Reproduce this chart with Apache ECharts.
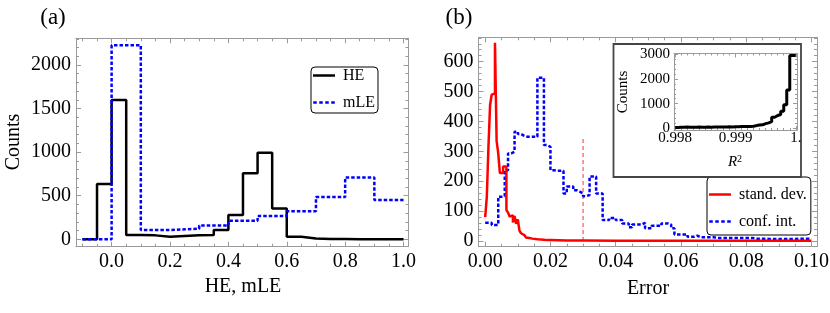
<!DOCTYPE html>
<html>
<head>
<meta charset="utf-8">
<script src="https://cdn.jsdelivr.net/npm/echarts@6/dist/echarts.min.js"></script>
<style>html,body{margin:0;padding:0;background:#fff}#c{width:830px;height:313px}</style>
</head>
<body>
<div id="c"></div>
<script>
// ---------- DATA ----------
// Panel (a): HE histogram (bin edges + counts)
const heEdges = [-0.1,-0.05,0,0.05,0.1,0.15,0.2,0.25,0.3,0.35,0.4,0.45,0.5,0.55,0.6,0.65,0.7,0.75,0.8,0.85,0.9,0.95,1.0];
const heCounts = [0,634,1597,49,45,28,38,45,50,107,279,757,993,353,30,9,2,2,1,1,1,1];
// Panel (a): mLE histogram
const mleEdges = [-0.1,0,0.1,0.2,0.3,0.4,0.5,0.6,0.7,0.8,0.9,1.0];
const mleCounts = [0,2225,107,122,158,213,267,323,485,709,451];

// Panel (b): standard deviation histogram
const sdEdges = [0,0.0005,0.001,0.0015,0.002,0.0025,0.003,0.0035,0.004,0.0045,
  0.005,0.0055,0.006,0.0065,0.007,0.0075,0.008,0.0085,0.009,0.0095,
  0.010,0.0105,0.011,0.0115,0.012,0.0125,0.013,0.0135,0.014,0.0145,
  0.015,0.016,0.017,0.018,0.019,0.020,0.025,0.030,0.040,0.060,0.100];
const sdCounts = [80,148,315,455,490,494,663,335,293,228,
  228,249,249,104,95,82,86,62,84,58,
  72,35,26,20,15,12,10,9,8,7,
  6,5,4,3,3,2,2,1,1,1];
// Panel (b): confidence interval histogram (0.001 bins from 0 to 0.1)
const ciEdges = [0,0.001,0.002,0.003,0.004,0.005,0.006,0.007,0.008,0.009,
  0.010,0.011,0.012,0.013,0.014,0.015,0.016,0.017,0.018,0.019,
  0.020,0.021,0.022,0.023,0.024,0.025,0.026,0.027,0.028,0.029,
  0.030,0.031,0.032,0.033,0.034,0.035,0.036,0.037,0.038,0.039,
  0.040,0.041,0.042,0.043,0.044,0.045,0.046,0.047,0.048,0.049,
  0.050,0.051,0.052,0.053,0.054,0.055,0.056,0.057,0.058,0.059,
  0.060,0.061,0.062,0.063,0.064,0.065,0.066,0.067,0.068,0.069,
  0.070,0.071,0.072,0.073,0.074,0.075,0.076,0.077,0.078,0.079,
  0.080,0.081,0.082,0.083,0.084,0.085,0.086,0.087,0.088,0.089,
  0.090,0.091,0.092,0.093,0.094,0.095,0.096,0.097,0.098,0.099,0.100];
const ciCounts = [61,61,54,54,148,150,237,293,299,366,
  358,352,349,349,349,349,546,546,321,315,
  237,235,235,235,159,182,182,170,165,159,
  150,154,216,216,159,159,70,70,77,77,
  70,70,59,59,46,55,55,55,61,43,
  43,51,51,51,59,59,55,43,22,22,
  22,22,14,14,18,13,13,13,13,13,
  10,10,10,10,10,10,10,10,10,10,
  10,10,8,8,8,8,7,7,7,7,
  7,7,7,7,7,8,8,8,8,8];
// Threshold marker in panel (b)
const cutX = 0.03;
const cutTop = 350;

// Inset: R^2 histogram
const r2Edges = [0.998,0.99805,0.9981,0.99815,0.9982,0.99825,0.9983,0.99835,0.9984,0.99845,
  0.9985,0.99855,0.9986,0.99865,0.9987,0.99875,0.9988,0.99885,0.9989,0.99895,
  0.999,0.99905,0.9991,0.99915,0.9992,0.99925,0.9993,0.99935,0.9994,0.99945,
  0.9995,0.99955,0.9996,0.99965,0.9997,0.99975,0.9998,0.99985,0.9999,0.99995,1.0];
const r2Counts = [30,45,40,50,45,40,45,50,45,45,
  50,45,50,50,55,50,55,60,55,60,
  65,70,70,75,75,80,110,130,140,190,
  220,270,450,520,560,690,950,1550,2950,2950];

// Tick values and labels
const aXTicks = [0,0.2,0.4,0.6,0.8,1.0];
const aXLabels = ['0.0','0.2','0.4','0.6','0.8','1.0'];
const aYTicks = [0,500,1000,1500,2000];
const aYLabels = ['0','500','1000','1500','2000'];
const bXTicks = [0,0.02,0.04,0.06,0.08,0.10];
const bXLabels = ['0.00','0.02','0.04','0.06','0.08','0.10'];
const bYTicks = [0,100,200,300,400,500,600];
const bYLabels = ['0','100','200','300','400','500','600'];
const iXTicks = [0.998,0.999,1.0];
const iXLabels = ['0.998','0.999','1.'];
const iYTicks = [0,1000,2000,3000];
const iYLabels = ['0','1000','2000','3000'];

// ---------- HELPERS ----------
const FONT = "'Liberation Serif','Times New Roman','DejaVu Serif',serif";
const FRAME = '#9a9a9a';
function range(a,b,s){const out=[];const n=Math.round((b-a)/s);for(let i=0;i<=n;i++)out.push(+(a+i*s).toFixed(10));return out;}
function stepPoints(edges,counts){const p=[];for(let i=0;i<counts.length;i++){p.push([edges[i],counts[i]]);p.push([edges[i+1],counts[i]]);}return p;}
function frame(dim,gi,min,max,majors,minors,labels,o){
  const pos = dim==='x'?['bottom','top']:['left','right'];
  const base = {type:'value',gridIndex:gi,min:min,max:max,splitLine:{show:false},z:o.z||0,axisPointer:{show:false}};
  const fmt = v=>{let bi=0,bd=Infinity;majors.forEach((m,i)=>{const d=Math.abs(m-v);if(d<bd){bd=d;bi=i;}});return labels[bi];};
  const line = {show:true,onZero:false,lineStyle:{color:FRAME,width:1}};
  const noLine = {show:false,onZero:false};
  const tMaj = {show:true,inside:true,length:o.maj,customValues:majors,lineStyle:{color:FRAME,width:1}};
  const tMin = {show:true,inside:true,length:o.mn,customValues:minors,lineStyle:{color:FRAME,width:1}};
  return [
    Object.assign({},base,{position:pos[0],axisLine:line,axisTick:tMaj,axisLabel:{show:true,customValues:majors,formatter:fmt,fontFamily:FONT,fontSize:o.fs,color:'#000',margin:o.margin}}),
    Object.assign({},base,{position:pos[0],axisLine:noLine,axisTick:tMin,axisLabel:{show:false}}),
    Object.assign({},base,{position:pos[1],axisLine:line,axisTick:tMaj,axisLabel:{show:false}}),
    Object.assign({},base,{position:pos[1],axisLine:noLine,axisTick:tMin,axisLabel:{show:false}})
  ];
}

const xAxes = [].concat(
  frame('x',0,-0.122,1.017,aXTicks,range(-0.1,1.0,0.05),aXLabels,{maj:5,mn:3,fs:20,margin:5}),
  frame('x',1,-0.00205,0.1017,bXTicks,range(0,0.1,0.005),bXLabels,{maj:5,mn:3,fs:20,margin:5}),
  frame('x',2,0.99798,1.00002,iXTicks,range(0.998,1.0,0.0001),iXLabels,{maj:4,mn:2,fs:15,margin:1,z:6})
);
const yAxes = [].concat(
  frame('y',0,-85,2306,aYTicks,range(0,2300,100),aYLabels,{maj:5,mn:3,fs:20,margin:5}),
  frame('y',1,-19,681.6,bYTicks,range(0,680,20),bYLabels,{maj:5,mn:3,fs:20,margin:5}),
  frame('y',2,-69,3032,iYTicks,range(0,3000,200),iYLabels,{maj:4,mn:2,fs:15,margin:4,z:6})
);

function txt(t,x,y,size,rot,extra){
  return Object.assign({type:'text',x:x,y:y,rotation:rot||0,z:20,
    style:{text:t,fontFamily:FONT,fontSize:size,fill:'#000',align:'center',verticalAlign:'middle'}},extra||{});
}

const SOLID_ICON = 'rect';
const DOTTED_ICON = 'path://M0,0h3.5v2.5h-3.5z M6,0h3.5v2.5h-3.5z M12,0h3.5v2.5h-3.5z M18,0h3.5v2.5h-3.5z';
const legendBase = {orient:'vertical',itemGap:10,itemWidth:22,itemHeight:2.5,
  borderColor:'#000',borderWidth:1,borderRadius:4,backgroundColor:'#fff',selectedMode:false,
  textStyle:{fontFamily:FONT,fontSize:16,color:'#000',lineHeight:17,padding:[0,0,0,3]}};

const chart = echarts.init(document.getElementById('c'),null,{renderer:'canvas'});
chart.setOption({
  animation:false,
  backgroundColor:'#fff',
  grid:[
    {left:76,top:38.3,width:332.5,height:208.4,outerBoundsMode:'none'},
    {left:478.5,top:37.3,width:338.5,height:209.4,outerBoundsMode:'none'},
    {left:674,top:53.5,width:123,height:76.5,outerBoundsMode:'none'}
  ],
  xAxis:xAxes,
  yAxis:yAxes,
  legend:[
    Object.assign({},legendBase,{data:[{name:'HE',icon:SOLID_ICON},{name:'mLE',icon:DOTTED_ICON}],left:311,top:67,padding:[0,3,2,2]}),
    Object.assign({},legendBase,{data:[{name:'stand. dev.',icon:SOLID_ICON},{name:'conf. int.',icon:DOTTED_ICON}],left:707,top:177,padding:[9,4,5,2]})
  ],
  graphic:[
    {type:'rect',z:5,shape:{x:613.5,y:44,width:187.5,height:133},style:{fill:'#fff',stroke:'#444',lineWidth:1.8}},
    txt('(a)',53,18,23),
    txt('(b)',459,18,23),
    txt('Counts',13.5,142,20,Math.PI/2),
    txt('HE, mLE',243,287,20),
    txt('Error',648,289,20),
    txt('Counts',623,92,15,Math.PI/2),
    {type:'text',x:735,y:162,z:20,style:{text:'{i|R}{s|2}',fontFamily:FONT,fontSize:15,fill:'#000',align:'center',verticalAlign:'middle',
      rich:{i:{fontFamily:FONT,fontSize:15,fontStyle:'italic',lineHeight:16,verticalAlign:'bottom'},
            s:{fontFamily:FONT,fontSize:10,lineHeight:16,verticalAlign:'top'}}}}
  ],
  series:[
    {name:'HE',type:'line',xAxisIndex:0,yAxisIndex:0,data:stepPoints(heEdges,heCounts),symbol:'none',showSymbol:false,
     lineStyle:{color:'#000',width:2.5},itemStyle:{color:'#000'},z:3},
    {name:'mLE',type:'line',xAxisIndex:0,yAxisIndex:0,data:stepPoints(mleEdges,mleCounts),symbol:'none',showSymbol:false,
     lineStyle:{color:'#0000ff',width:2.5,type:[3.5,2]},itemStyle:{color:'#0000ff'},z:4},
    {name:'cut',type:'line',xAxisIndex:4,yAxisIndex:4,data:[[cutX,0],[cutX,cutTop]],symbol:'none',showSymbol:false,
     lineStyle:{color:'#ff3030',width:1,type:[4,3]},z:2},
    {name:'conf. int.',type:'line',xAxisIndex:4,yAxisIndex:4,data:stepPoints(ciEdges,ciCounts),symbol:'none',showSymbol:false,
     lineStyle:{color:'#0000ff',width:2.5,type:[3.5,2]},itemStyle:{color:'#0000ff'},z:3},
    {name:'stand. dev.',type:'line',xAxisIndex:4,yAxisIndex:4,data:stepPoints(sdEdges,sdCounts),symbol:'none',showSymbol:false,
     lineStyle:{color:'#ff0000',width:2.5},itemStyle:{color:'#ff0000'},z:4},
    {name:'R2',type:'line',xAxisIndex:8,yAxisIndex:8,data:stepPoints(r2Edges,r2Counts),symbol:'none',showSymbol:false,
     lineStyle:{color:'#000',width:3},itemStyle:{color:'#000'},z:7}
  ]
});
</script>
</body>
</html>
